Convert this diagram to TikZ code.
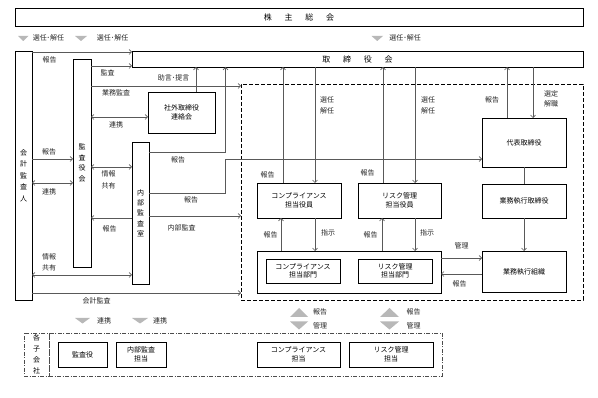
\documentclass[tikz,border=0pt]{standalone}
\usepackage{fontspec}
\newfontfamily\jp{Noto Sans CJK JP}
\usetikzlibrary{arrows.meta}
\begin{document}
\begin{tikzpicture}[x=1pt,y=-1pt,
 every node/.style={font=\jp\fontsize{7}{8.5}\selectfont, inner sep=0pt, outer sep=0pt},
 box/.style={draw=black, line width=0.9pt, align=center, fill=white},
 ln/.style={draw=black!65, line width=0.6pt},
 arr/.style={ln, -{Straight Barb[length=2.5pt,width=5pt]}},
 darr/.style={ln, {Straight Barb[length=2.5pt,width=5pt]}-{Straight Barb[length=2.5pt,width=5pt]}},
 lbl/.style={text=black!85, align=center},
 tri/.style={fill=black!28, draw=none},
 vt/.style={box, font=\jp\fontsize{7}{10.7}\selectfont},
 dd/.style={draw=black!70, line width=0.6pt, dash pattern=on 4pt off 1.5pt on 1pt off 1.5pt}]
\useasboundingbox (0,0) rectangle (598,398);
\fill[white] (0,0) rectangle (598,398);

% big dashed frame
\node[draw=black, line width=0.9pt, dash pattern=on 4pt off 2pt, minimum width=342pt, minimum height=216pt] (dbox) at (412,192) {};

% boxes
\node[box, font=\jp\fontsize{8}{9}\selectfont, minimum width=568pt, minimum height=18pt] (kabu) at (299,17) {株\hspace{1.6em}主\hspace{1.6em}総\hspace{1.6em}会};
\node[box, font=\jp\fontsize{8}{9}\selectfont, minimum width=451pt, minimum height=16pt] (tori) at (357.5,59) {取\hspace{1.6em}締\hspace{1.6em}役\hspace{1.6em}会};
\node[vt, font=\jp\fontsize{7}{11.5}\selectfont, minimum width=17pt, minimum height=249pt] (kaikei) at (23.5,175.5) {会\\計\\監\\査\\人};
\node[vt, minimum width=18pt, minimum height=208pt] (kansa) at (82,163) {監\\査\\役\\会};
\node[box, minimum width=67pt, minimum height=41pt] (shagai) at (181.5,112.5) {社外取締役\\[1pt]連絡会};
\node[vt, font=\jp\fontsize{7}{10.3}\selectfont, minimum width=17pt, minimum height=142pt] (naibu) at (140.5,213) {内\\部\\監\\査\\室};
\node[box, minimum width=84pt, minimum height=35pt] (compY) at (299,200.5) {コンプライアンス\\[1pt]担当役員};
\node[box, minimum width=83pt, minimum height=35pt] (riskY) at (399.5,200.5) {リスク管理\\[1pt]担当役員};
\node[box, minimum width=184pt, minimum height=42pt] (bumon) at (349,272) {};
\node[box, line width=0.7pt, minimum width=74pt, minimum height=24pt] (compB) at (303,271) {コンプライアンス\\担当部門};
\node[box, line width=0.7pt, minimum width=74pt, minimum height=24pt] (riskB) at (395,271) {リスク管理\\担当部門};
\node[box, minimum width=84pt, minimum height=49pt] (daihyo) at (524,142.5) {代表取締役};
\node[box, minimum width=84pt, minimum height=34pt] (gyomuT) at (524,201) {業務執行取締役};
\node[box, minimum width=84pt, minimum height=41pt] (gyomuS) at (524,271.5) {業務執行組織};

% subsidiaries
\node[dd, align=center, font=\jp\fontsize{7}{10.8}\selectfont, minimum width=25pt, minimum height=43pt] (kolbl) at (36.5,354.5) {各\\子\\会\\社};
\node[dd, minimum width=393pt, minimum height=43pt] (ko) at (245.5,354.5) {};
\node[box, minimum width=49pt, minimum height=25pt] (kyaku) at (82.5,354.5) {監査役};
\node[box, minimum width=50pt, minimum height=25pt] (naibuT) at (141,354.5) {内部監査\\担当};
\node[box, minimum width=83pt, minimum height=25pt] (compT) at (298.5,354.5) {コンプライアンス\\担当};
\node[box, minimum width=84pt, minimum height=25pt] (riskT) at (391,354.5) {リスク管理\\担当};

% triangles top
\fill[tri] (18,36) -- (28.5,36) -- (23.25,41) -- cycle;
\fill[tri] (75,36) -- (87,36) -- (81,41) -- cycle;
\fill[tri] (371.5,36) -- (383,36) -- (377.25,41) -- cycle;
\node[lbl] (t1) at (48.5,38) {選任･解任};
\node[lbl] (t2) at (112.5,38) {選任･解任};
\node[lbl] (t3) at (405,38) {選任･解任};

% triangles bottom
\fill[tri] (75,318) -- (90,318) -- (82.5,323.5) -- cycle;
\fill[tri] (132,318) -- (148,318) -- (140,323.5) -- cycle;
\node[lbl] (b1) at (104,320.5) {連携};
\node[lbl] (b2) at (160,320.5) {連携};
\fill[tri] (290,317) -- (308,317) -- (299,308) -- cycle;
\fill[tri] (290,321.5) -- (308,321.5) -- (299,329.5) -- cycle;
\fill[tri] (380,317) -- (399,317) -- (389.5,308) -- cycle;
\fill[tri] (380,321.5) -- (399,321.5) -- (389.5,329.5) -- cycle;
\node[lbl] (b3) at (320,311.5) {報告};
\node[lbl] (b4) at (320,326) {管理};
\node[lbl] (b5) at (413.5,311.5) {報告};
\node[lbl] (b6) at (413.5,326) {管理};

% left connectors
\draw[arr] (kaikei.east |- 0,52) -- (tori.west |- 0,52);
\node[lbl] at (49.5,60) {報告};
\draw[arr] (kansa.east |- 0,66) -- (tori.west |- 0,66);
\node[lbl] at (107.5,72.5) {監査};
\draw[arr] (kansa.east |- 0,86) -- (dbox.west |- 0,86);
\node[lbl] at (116,93) {業務監査};
\draw[darr] (kansa.east |- 0,117) -- (shagai.west |- 0,117);
\node[lbl] at (116,125) {連携};
\draw[arr] (shagai.north -| 196,0) -- (tori.south -| 196,0);
\node[lbl] at (173.5,77.5) {助言･提言};
\draw[arr] (naibu.east |- 0,152) -| (tori.south -| 225.5,0);
\node[lbl] at (178,160) {報告};
\draw[arr] (naibu.east |- 0,193) -| (225.5,159) -- (daihyo.west |- 0,159);
\node[lbl] at (191,199.5) {報告};
\draw[arr] (naibu.east |- 0,216) -- (dbox.west |- 0,216);
\node[lbl] at (181.5,227.5) {内部監査};
\draw[arr] (kaikei.east |- 0,159) -- (kansa.west |- 0,159);
\node[lbl] at (49,151.5) {報告};
\draw[darr] (kaikei.east |- 0,183) -- (kansa.west |- 0,183);
\node[lbl] at (49,192) {連携};
\draw[darr] (kansa.east |- 0,167) -- (naibu.west |- 0,167);
\node[lbl, font=\jp\fontsize{7}{11.5}\selectfont] at (108.5,180) {情報\\共有};
\draw[arr] (naibu.west |- 0,218) -- (kansa.east |- 0,218);
\node[lbl] at (109.5,229) {報告};
\draw[darr] (kaikei.east |- 0,275) -- (naibu.west |- 0,275);
\node[lbl, font=\jp\fontsize{7}{11}\selectfont] at (49,262) {情報\\共有};
\draw[arr] (kaikei.east |- 0,293) -- (dbox.west |- 0,293);
\node[lbl] at (96.5,300.5) {会計監査};

% right connectors
\draw[arr] (tori.south -| 315,0) -- (compY.north -| 315,0);
\node[lbl, font=\jp\fontsize{7}{11}\selectfont] at (327,105.5) {選任\\解任};
\draw[arr] (compY.north -| 283,0) -- (tori.south -| 283,0);
\node[lbl] at (267.5,175) {報告};
\draw[arr] (tori.south -| 415,0) -- (riskY.north -| 415,0);
\node[lbl, font=\jp\fontsize{7}{11}\selectfont] at (428,105.5) {選任\\解任};
\draw[arr] (riskY.north -| 383,0) -- (tori.south -| 383,0);
\node[lbl] at (367.5,173) {報告};
\draw[arr] (daihyo.north -| 507,0) -- (tori.south -| 507,0);
\node[lbl] at (492,99.5) {報告};
\draw[arr] (tori.south -| 533,0) -- (daihyo.north -| 533,0);
\node[lbl, font=\jp\fontsize{7}{10}\selectfont] at (551,99) {選定\\解職};

\draw[arr] (bumon.north -| 281,0) -- (compY.south -| 281,0);
\node[lbl] at (270.5,235) {報告};
\draw[arr] (compY.south -| 315,0) -- (bumon.north -| 315,0);
\node[lbl] at (328,233) {指示};
\draw[arr] (bumon.north -| 382,0) -- (riskY.south -| 382,0);
\node[lbl] at (370.5,235) {報告};
\draw[arr] (riskY.south -| 415,0) -- (bumon.north -| 415,0);
\node[lbl] at (427,233) {指示};

\draw[ln] (daihyo.south) -- (gyomuT.north);
\draw[arr] (gyomuT.south) -- (gyomuS.north);
\draw[arr] (bumon.east |- 0,258) -- (gyomuS.west |- 0,258);
\node[lbl] at (461.5,245.5) {管理};
\draw[arr] (gyomuS.west |- 0,274) -- (bumon.east |- 0,274);
\node[lbl] at (459.5,284) {報告};
\end{tikzpicture}
\end{document}
